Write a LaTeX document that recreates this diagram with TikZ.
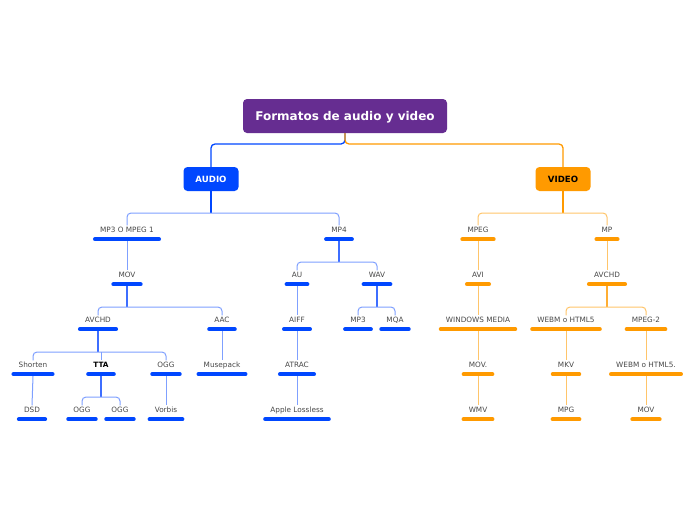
\documentclass[tikz,border=0pt]{standalone}
\usepackage{fontspec}
\setmainfont{DejaVu Sans}
\usepackage{tikz}
\usetikzlibrary{calc, positioning}
\definecolor{rootPurple}{HTML}{662D91}
\definecolor{audioBlue}{HTML}{0047FF}
\definecolor{audioMid}{HTML}{3D6EFF}
\definecolor{audioLight}{HTML}{7FA0FF}
\definecolor{videoOrange}{HTML}{FF9A00}
\definecolor{videoMid}{HTML}{FFAE33}
\definecolor{videoLight}{HTML}{FFC56A}
\definecolor{inkGrey}{HTML}{484848}
\tikzset{
  rootbox/.style = {fill=rootPurple, rounded corners=4pt, text=white,
                    font=\bfseries\fontsize{12}{14}\selectfont,
                    text height=8.5pt, text depth=0pt,
                    minimum width=204pt, minimum height=34pt},
  topic/.style   = {fill=#1, rounded corners=4pt, font=\bfseries\fontsize{8.6}{10}\selectfont,
                    minimum width=55pt, minimum height=24pt},
  leaf/.style    = {font=\fontsize{7.3}{9}\selectfont, text=inkGrey, inner xsep=5pt,
                    inner ysep=1pt, text height=5.5pt, text depth=1.5pt,
                    append after command={([yshift=-4.5pt]\tikzlastnode.south west)
                      edge[draw=#1, line width=4pt, line cap=round]
                      ([yshift=-4.5pt]\tikzlastnode.south east)}},
  stem/.style    = {draw=#1, line width=1.2pt},
  twig/.style    = {draw=#1, line width=1pt, rounded corners=4pt}
}

\begin{document}
\begin{tikzpicture}[x=1pt, y=-1pt]
  \useasboundingbox[fill=white] (0,0) rectangle (696,520);

  % main topics
  \node[rootbox] (root) at (345,116) {Formatos de audio y video};
  \node[topic=audioBlue, text=white] (audio) at (211,179) {AUDIO};
  \node[topic=videoOrange, text=black] (video) at (563,179) {VIDEO};

  % audio side
  \node[leaf=audioBlue] (mp3) at (127,230) {MP3 O MPEG 1};
  \node[leaf=audioBlue] (mp4) at (339,230) {MP4};
  \node[leaf=audioBlue] (mov) at (127,275) {MOV};
  \node[leaf=audioBlue] (au) at (297,275) {AU};
  \node[leaf=audioBlue] (wav) at (377,275) {WAV};
  \node[leaf=audioBlue] (avchdA) at (98,320) {AVCHD};
  \node[leaf=audioBlue] (aac) at (222,320) {AAC};
  \node[leaf=audioBlue] (aiff) at (297,320) {AIFF};
  \node[leaf=audioBlue] (mp3b) at (358,320) {MP3};
  \node[leaf=audioBlue] (mqa) at (395,320) {MQA};
  \node[leaf=audioBlue] (shorten) at (33,365) {Shorten};
  \node[leaf=audioBlue, text=black, font=\bfseries\fontsize{7.3}{9}\selectfont] (tta) at (101,365) {TTA};
  \node[leaf=audioBlue] (oggA) at (166,365) {OGG};
  \node[leaf=audioBlue] (musepack) at (222,365) {Musepack};
  \node[leaf=audioBlue] (atrac) at (297,365) {ATRAC};
  \node[leaf=audioBlue] (dsd) at (32,410) {DSD};
  \node[leaf=audioBlue] (oggB) at (82,410) {OGG};
  \node[leaf=audioBlue] (oggC) at (120,410) {OGG};
  \node[leaf=audioBlue] (vorbis) at (166,410) {Vorbis};
  \node[leaf=audioBlue] (apple) at (297,410) {Apple Lossless};

  % video side
  \node[leaf=videoOrange] (mpeg) at (478,230) {MPEG};
  \node[leaf=videoOrange] (mp) at (607,230) {MP};
  \node[leaf=videoOrange] (avi) at (478,275) {AVI};
  \node[leaf=videoOrange] (avchdV) at (607,275) {AVCHD};
  \node[leaf=videoOrange] (wmedia) at (478,320) {WINDOWS MEDIA};
  \node[leaf=videoOrange] (webm) at (566,320) {WEBM o HTML5};
  \node[leaf=videoOrange] (mpeg2) at (646,320) {MPEG-2};
  \node[leaf=videoOrange] (movdot) at (478,365) {MOV.};
  \node[leaf=videoOrange] (mkv) at (566,365) {MKV};
  \node[leaf=videoOrange] (webmdot) at (646,365) {WEBM o HTML5.};
  \node[leaf=videoOrange] (wmv) at (478,410) {WMV};
  \node[leaf=videoOrange] (mpg) at (566,410) {MPG};
  \node[leaf=videoOrange] (movV) at (646,410) {MOV};

  % forks
  \coordinate (rootfork) at (345,144);
  \coordinate (audiofork) at (211,213);
  \coordinate (mp4fork) at (339,262);
  \coordinate (movfork) at (127,307);
  \coordinate (wavfork) at (377,307);
  \coordinate (avchdfork) at (98,352);
  \coordinate (ttafork) at (101,397);
  \coordinate (videofork) at (563,213);
  \coordinate (avchdVfork) at (607,307);

  % root to topics
  \draw[twig=audioBlue, line width=1.3pt] (root.south) -- (rootfork) -| (audio.north);
  \draw[twig=videoOrange, line width=1.3pt] (root.south) -- (rootfork) -| (video.north);

  % audio connectors
  \draw[stem=audioBlue] (audio.south) -- (audiofork);
  \draw[twig=audioLight] (mp3.north) |- (audiofork) -| (mp4.north);
  \draw[twig=audioLight] ([yshift=-6.5pt]mp3.south) -- (mov.north);
  \draw[stem=audioMid] ([yshift=-6.5pt]mov.south) -- (movfork);
  \draw[twig=audioLight] (avchdA.north) |- (movfork) -| (aac.north);
  \draw[stem=audioMid] ([yshift=-6.5pt]avchdA.south) -- (avchdfork);
  \draw[twig=audioLight] (shorten.north) |- (avchdfork) -| (oggA.north);
  \draw[twig=audioLight] (tta.north) -- (tta.north |- avchdfork);
  \draw[stem=audioMid] ([yshift=-6.5pt]tta.south) -- (ttafork);
  \draw[twig=audioLight] (oggB.north) |- (ttafork) -| (oggC.north);
  \draw[twig=audioLight] ([yshift=-6.5pt]shorten.south) -- (dsd.north);
  \draw[twig=audioLight] ([yshift=-6.5pt]oggA.south) -- (vorbis.north);
  \draw[twig=audioLight] ([yshift=-6.5pt]aac.south) -- (musepack.north);
  \draw[stem=audioMid] ([yshift=-6.5pt]mp4.south) -- (mp4fork);
  \draw[twig=audioLight] (au.north) |- (mp4fork) -| (wav.north);
  \draw[stem=audioMid] ([yshift=-6.5pt]wav.south) -- (wavfork);
  \draw[twig=audioLight] (mp3b.north) |- (wavfork) -| (mqa.north);
  \draw[twig=audioLight] ([yshift=-6.5pt]au.south) -- (aiff.north);
  \draw[twig=audioLight] ([yshift=-6.5pt]aiff.south) -- (atrac.north);
  \draw[twig=audioLight] ([yshift=-6.5pt]atrac.south) -- (apple.north);

  % video connectors
  \draw[stem=videoOrange] (video.south) -- (videofork);
  \draw[twig=videoLight] (mpeg.north) |- (videofork) -| (mp.north);
  \draw[twig=videoLight] ([yshift=-6.5pt]mpeg.south) -- (avi.north);
  \draw[twig=videoLight] ([yshift=-6.5pt]avi.south) -- (wmedia.north);
  \draw[twig=videoLight] ([yshift=-6.5pt]wmedia.south) -- (movdot.north);
  \draw[twig=videoLight] ([yshift=-6.5pt]movdot.south) -- (wmv.north);
  \draw[twig=videoLight] ([yshift=-6.5pt]mp.south) -- (avchdV.north);
  \draw[stem=videoMid] ([yshift=-6.5pt]avchdV.south) -- (avchdVfork);
  \draw[twig=videoLight] (webm.north) |- (avchdVfork) -| (mpeg2.north);
  \draw[twig=videoLight] ([yshift=-6.5pt]webm.south) -- (mkv.north);
  \draw[twig=videoLight] ([yshift=-6.5pt]mkv.south) -- (mpg.north);
  \draw[twig=videoLight] ([yshift=-6.5pt]mpeg2.south) -- (webmdot.north);
  \draw[twig=videoLight] ([yshift=-6.5pt]webmdot.south) -- (movV.north);
\end{tikzpicture}
\end{document}
